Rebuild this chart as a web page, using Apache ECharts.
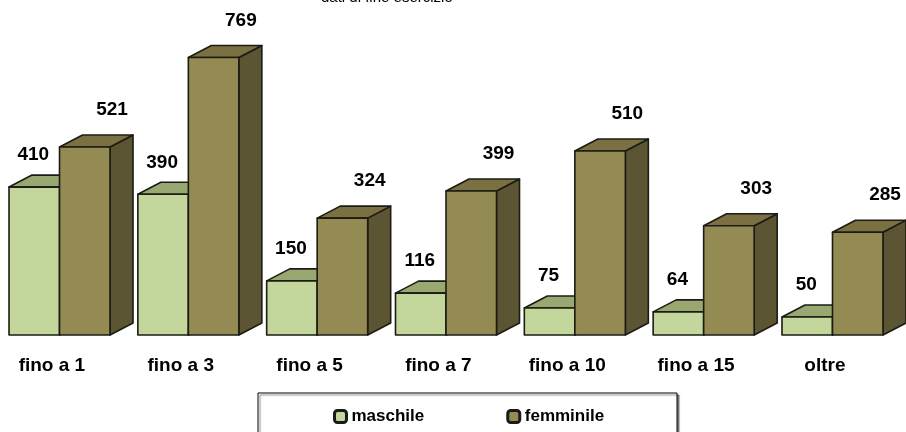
<!DOCTYPE html>
<html>
<head>
<meta charset="utf-8">
<script src="https://cdn.jsdelivr.net/npm/echarts@6/dist/echarts.min.js"></script>
<style>
  html, body { margin: 0; padding: 0; background: #fff; }
  #chart { width: 906px; height: 432px; }
</style>
</head>
<body>
<div id="chart"></div>
<script>
// Anni di servizio: personale maschile e femminile
const categories = ['fino a 1', 'fino a 3', 'fino a 5', 'fino a 7', 'fino a 10', 'fino a 15', 'oltre'];
const maschile = [410, 390, 150, 116, 75, 64, 50];
const femminile = [521, 769, 324, 399, 510, 303, 285];
const seriesNames = ['maschile', 'femminile'];
const titleText = 'dati di fine esercizio';

const FONT = '"Liberation Sans", Arial, sans-serif';

// faces: front, top, side
const palette = {
  maschile: { front: '#c3d69b', top: '#98a870', side: '#7d8b57' },
  femminile: { front: '#948a54', top: '#7a7042', side: '#5c5533' }
};

const DX = 23, DY = -12;   // oblique depth offset of the 3D boxes
const EDGE = '#1c1c14';

function makeBox(kind) {
  return function (params, api) {
    const idx = api.value(0);
    const val = api.value(1);
    const base = api.coord([idx, 0]);
    const top = api.coord([idx, val]);
    const band = api.size([1, 0])[0];
    const bw = band * 0.392;
    const cx = base[0] - band * 0.038;
    const x0 = kind === 'maschile' ? cx - bw : cx;
    const x1 = kind === 'maschile' ? cx : cx + bw;
    const yT = top[1], yB = base[1];
    const c = palette[kind];
    const line = { stroke: EDGE, lineWidth: 1.6, lineJoin: 'round' };
    const children = [
      {
        type: 'polygon',
        shape: { points: [[x1, yT], [x1 + DX, yT + DY], [x1 + DX, yB + DY], [x1, yB]] },
        style: Object.assign({ fill: c.side }, line)
      },
      {
        type: 'polygon',
        shape: { points: [[x0, yT], [x0 + DX, yT + DY], [x1 + DX, yT + DY], [x1, yT]] },
        style: Object.assign({ fill: c.top }, line)
      },
      {
        type: 'rect',
        shape: { x: x0, y: yT, width: x1 - x0, height: yB - yT },
        style: Object.assign({ fill: c.front }, line)
      },
      {
        type: 'text',
        x: kind === 'maschile' ? (x0 + x1) / 2 - 1 : x1 + 2,
        y: kind === 'maschile' ? yT - 32 : yT - 37,
        style: {
          text: String(val),
          fill: '#000',
          font: 'bold 19px ' + FONT,
          align: 'center',
          verticalAlign: 'middle'
        }
      }
    ];
    return { type: 'group', children: children };
  };
}

const chart = echarts.init(document.getElementById('chart'), null, { renderer: 'canvas' });

chart.setOption({
  animation: false,
  backgroundColor: '#ffffff',
  title: {
    text: titleText,
    left: 321,
    top: -10,
    padding: 0,
    textStyle: { fontFamily: FONT, fontSize: 15, fontWeight: 'normal', color: '#000' }
  },
  grid: { left: 0, right: 4.2, top: 10.3, bottom: 97, containLabel: false },
  xAxis: {
    type: 'category',
    data: categories,
    axisLine: { show: false },
    axisTick: { show: false },
    splitLine: { show: false },
    axisLabel: {
      interval: 0,
      margin: 21,
      padding: [0, 25, 0, 0],
      color: '#000',
      fontFamily: FONT,
      fontSize: 19,
      fontWeight: 'bold'
    }
  },
  yAxis: {
    type: 'value',
    min: 0,
    max: 900,
    show: false
  },
  legend: {
    data: seriesNames,
    left: 333,
    top: 408,
    padding: 0,
    itemWidth: 12,
    itemHeight: 12,
    itemGap: 82,
    icon: 'roundRect',
    itemStyle: { borderColor: '#1a1a1a', borderWidth: 3 },
    textStyle: { fontFamily: FONT, fontSize: 17, fontWeight: 'bold', color: '#000' }
  },
  graphic: [
    {
      type: 'rect',
      shape: { x: 258, y: 393, width: 419, height: 60 },
      style: { fill: '#fff', stroke: '#000', lineWidth: 1, shadowColor: 'rgba(0,0,0,0.45)', shadowOffsetX: 2, shadowOffsetY: 2, shadowBlur: 1 },
      z: -10
    }
  ],
  series: [
    {
      name: 'maschile',
      type: 'custom',
      renderItem: makeBox('maschile'),
      encode: { x: 0, y: 1 },
      data: maschile.map((v, i) => [i, v]),
      itemStyle: { color: palette.maschile.front, borderColor: EDGE, borderWidth: 3 }
    },
    {
      name: 'femminile',
      type: 'custom',
      renderItem: makeBox('femminile'),
      encode: { x: 0, y: 1 },
      data: femminile.map((v, i) => [i, v]),
      itemStyle: { color: palette.femminile.front, borderColor: EDGE, borderWidth: 3 }
    }
  ]
});
</script>
</body>
</html>
